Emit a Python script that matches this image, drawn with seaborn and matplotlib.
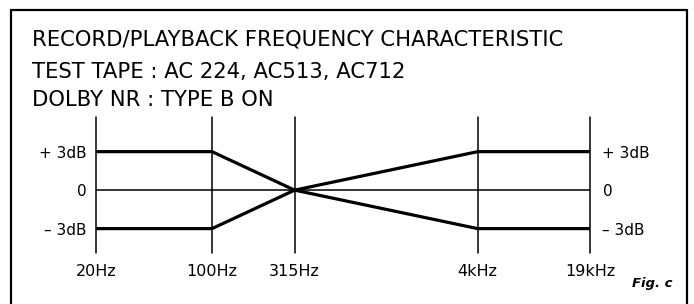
import numpy as np
import pandas as pd
import matplotlib.pyplot as plt
import seaborn as sns
from matplotlib.lines import Line2D

# frequency points (Hz) and tolerance band edges (dB)
freqs = [20, 100, 315, 4000, 19000]
freq_labels = ["20Hz", "100Hz", "315Hz", "4kHz", "19kHz"]
upper_db = [3, 3, 0, 3, 3]
lower_db = [-3, -3, 0, -3, -3]
zero_db = [0, 0, 0, 0, 0]
db_ticks = [3, 0, -3]
db_left_labels = ["+ 3dB", "0", "– 3dB"]
db_right_labels = ["+ 3dB", "0", "– 3dB"]

title_lines = [
    "RECORD/PLAYBACK FREQUENCY CHARACTERISTIC",
    "TEST TAPE : AC 224, AC513, AC712",
    "DOLBY NR : TYPE B ON",
]

df = pd.DataFrame({
    "freq": freqs * 2,
    "db": upper_db + lower_db,
    "edge": ["upper"] * 5 + ["lower"] * 5,
})

sns.set_style("white")
plt.rcParams["font.family"] = ["DejaVu Sans"]
plt.rcParams["text.color"] = "black"
plt.rcParams["xtick.color"] = "black"
plt.rcParams["ytick.color"] = "black"

W, H = 694, 304
fig = plt.figure(figsize=(W / 100, H / 100), dpi=100)
ax = fig.add_axes([96 / W, 1 - 253 / H, (590 - 96) / W, (253 - 117) / H])

ax.set_xscale("log")
ax.set_xlim(20, 19000)
ax.set_ylim(-4.9, 5.7)

for f in freqs:
    ax.axvline(f, color="black", lw=1.1, clip_on=False)
ax.plot(freqs, zero_db, color="black", lw=1.1)

sns.lineplot(data=df, x="freq", y="db", units="edge", estimator=None,
             color="black", lw=2.3, ax=ax, legend=False)

for s in ax.spines.values():
    s.set_visible(False)

ax.set_xticks(freqs)
ax.set_xticklabels(freq_labels, fontsize=11.5)
ax.xaxis.set_minor_locator(plt.NullLocator())
ax.set_yticks(db_ticks)
ax.set_yticklabels(db_left_labels, fontsize=11)
ax.tick_params(axis="both", length=0)
ax.tick_params(axis="x", pad=8)
ax.tick_params(axis="y", pad=7)
ax.set_xlabel("")
ax.set_ylabel("")

ax2 = ax.twinx()
ax2.set_ylim(ax.get_ylim())
ax2.set_yticks(db_ticks)
ax2.set_yticklabels(db_right_labels, fontsize=11)
ax2.tick_params(axis="y", length=0, pad=9)
for s in ax2.spines.values():
    s.set_visible(False)

# title block
for line, ypx in zip(title_lines, [40, 72, 100]):
    fig.text(32 / W, 1 - ypx / H, line, fontsize=15.2, va="center", ha="left")

fig.text(672 / W, 1 - 283 / H, "Fig. c", fontsize=9.5, fontweight="bold",
         style="italic", ha="right", va="center")

# outer frame
fig.add_artist(Line2D([11 / W, 11 / W], [0, 1 - 10 / H], color="black", lw=1.6,
                      transform=fig.transFigure))
fig.add_artist(Line2D([11 / W, 687 / W], [1 - 10 / H, 1 - 10 / H], color="black",
                      lw=1.6, transform=fig.transFigure))
fig.add_artist(Line2D([687 / W, 687 / W], [0, 1 - 10 / H], color="black", lw=1.6,
                      transform=fig.transFigure))

fig.savefig("out.png", dpi=100, facecolor="white")
